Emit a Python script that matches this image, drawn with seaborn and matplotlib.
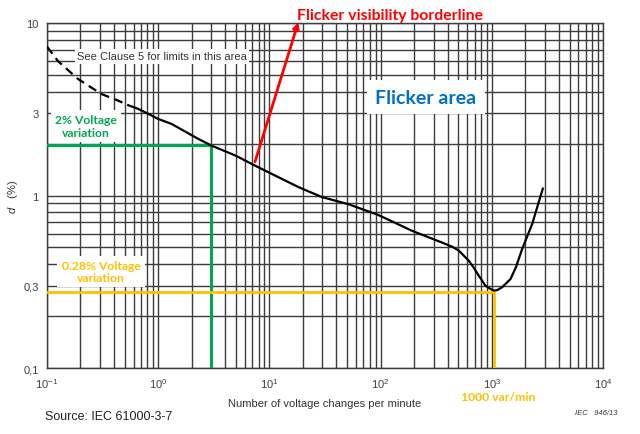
import matplotlib
matplotlib.use('Agg')
import matplotlib.pyplot as plt
from matplotlib.ticker import FixedLocator, FixedFormatter, LogLocator, NullFormatter
import seaborn as sns

# ── data ────────────────────────────────────────────────────────────────────
# dashed part (see Clause 5)
dash_r = [0.1, 0.126, 0.19, 0.308, 0.436, 0.537]
dash_d = [7.3, 6.0, 4.74, 3.88, 3.55, 3.34]
# solid flicker visibility borderline
curve_r = [0.537, 0.66, 0.81, 1.0, 1.32, 2.29, 3.0, 5.0, 7.43, 18.2, 29.6, 51.5, 95.9,
           191, 383, 440, 505, 621, 700, 763, 877, 950, 1042, 1120, 1239, 1473, 1650,
           1875, 2308, 2880]
curve_d = [3.34, 3.18, 2.98, 2.78, 2.6, 2.13, 1.95, 1.70, 1.49, 1.12, 0.98, 0.89, 0.77,
           0.625, 0.524, 0.505, 0.479, 0.419, 0.375, 0.343, 0.30, 0.29, 0.281, 0.283, 0.294,
           0.328, 0.385, 0.49, 0.684, 1.10]

# reference lines
green_r = [0.1, 3, 3]
green_d = [1.95, 1.95, 0.1]
gold_r = [0.1, 1050, 1050]
gold_d = [0.274, 0.274, 0.1]

y_major = [0.1, 0.3, 1, 3, 10]
y_major_labels = ['0,1', '0,3', '1', '3', '10']
y_minor = [0.2, 0.4, 0.5, 0.6, 0.7, 0.8, 0.9, 2, 4, 5, 6, 7, 8, 9]

GRID = '#3c3c3c'
GREEN = '#00a650'
GOLD = '#ffc000'
RED = '#ff0000'
BLUE = '#0070c0'
CALLOUT_FONT = ['Lato', 'DejaVu Sans']

sns.set_theme(style='white')
plt.rcParams['font.family'] = ['Liberation Sans', 'DejaVu Sans']
plt.rcParams['mathtext.fontset'] = 'custom'
plt.rcParams['mathtext.rm'] = 'Liberation Sans'
plt.rcParams['mathtext.it'] = 'Liberation Sans:italic'

fig = plt.figure(figsize=(6.4, 4.35), dpi=100)
ax = fig.add_axes([0.0734, 0.1517, 0.8688, 0.7931])
ax.set_xscale('log')
ax.set_yscale('log')
ax.set_xlim(0.1, 1e4)
ax.set_ylim(0.1, 10)

# log paper grid
ax.xaxis.set_major_locator(LogLocator(base=10, numticks=10))
ax.xaxis.set_minor_locator(LogLocator(base=10, subs=range(2, 10), numticks=20))
ax.xaxis.set_minor_formatter(NullFormatter())
ax.yaxis.set_major_locator(FixedLocator(y_major))
ax.yaxis.set_major_formatter(FixedFormatter(y_major_labels))
ax.yaxis.set_minor_locator(FixedLocator(y_minor))
ax.yaxis.set_minor_formatter(NullFormatter())
ax.grid(True, which='both', color=GRID, lw=1.0, zorder=1)
ax.set_axisbelow(True)
for s in ax.spines.values():
    s.set_color(GRID)
    s.set_linewidth(1.0)
ax.tick_params(which='both', direction='out', length=4, width=1.0, color=GRID,
               labelsize=8, labelcolor='#404040', pad=2)

# curve
sns.lineplot(x=dash_r, y=dash_d, ax=ax, color='black', lw=1.6,
             linestyle=(0, (4, 2.5)), estimator=None, sort=False, zorder=4)
sns.lineplot(x=curve_r, y=curve_d, ax=ax, color='black', lw=1.6,
             estimator=None, sort=False, zorder=4)

# 2 % and 0.28 % guide lines
sns.lineplot(x=green_r, y=green_d, ax=ax, color=GREEN, lw=2.2,
             estimator=None, sort=False, zorder=3)
sns.lineplot(x=gold_r, y=gold_d, ax=ax, color=GOLD, lw=2.0,
             estimator=None, sort=False, zorder=3)

# annotations
ax.text(0.185, 6.4, 'See Clause 5 for limits in this area', fontsize=8, color='#333333',
        ha='left', va='center', zorder=5,
        bbox=dict(fc='white', ec='none', pad=1.5))
ax.text(0.224, 2.53, '2% Voltage\nvariation', fontsize=8.7, color=GREEN,
        fontweight='bold', family=CALLOUT_FONT, ha='center', va='center',
        linespacing=1.15, zorder=5, bbox=dict(fc='white', ec='none', pad=3))
ax.text(0.306, 0.363, '0.28% Voltage\nvariation', fontsize=8.7, color=GOLD,
        fontweight='bold', family=CALLOUT_FONT, ha='center', va='center',
        linespacing=1.15, zorder=5, bbox=dict(fc='white', ec='none', pad=3))
ax.text(254, 3.72, 'Flicker area', fontsize=14, color=BLUE, fontweight='bold',
        family=CALLOUT_FONT, ha='center', va='center', zorder=5,
        bbox=dict(fc='white', ec='none', pad=6))
ax.annotate('', xy=(18.2, 10.1), xytext=(7.43, 1.57),
            arrowprops=dict(arrowstyle='-|>', color=RED, lw=2, mutation_scale=9,
                            shrinkA=0, shrinkB=0),
            annotation_clip=False, zorder=6)
fig.text(0.609, 0.963, 'Flicker visibility borderline', fontsize=11.3, color=RED,
         fontweight='bold', family=CALLOUT_FONT, ha='center', va='center')
fig.text(498 / 640, 1 - 398 / 435, '1000 var/min', fontsize=8.8, color=GOLD,
         fontweight='bold', family=CALLOUT_FONT, ha='center', va='center')

ax.set_xlabel('Number of voltage changes per minute', fontsize=8, color='#333333',
              labelpad=6)
ax.set_ylabel('$d$   (%)', fontsize=8, color='#333333')
ax.yaxis.set_label_coords(-0.048, 0.5)

fig.text(45 / 640, 1 - 417 / 435, 'Source: IEC 61000-3-7', fontsize=9, color='#222222',
         ha='left', va='center')
fig.text(575 / 640, 1 - 414 / 435, 'IEC   946/13', fontsize=5.5, color='#333333',
         style='italic', ha='left', va='center')

fig.savefig('out.png', dpi=100, facecolor='white')
